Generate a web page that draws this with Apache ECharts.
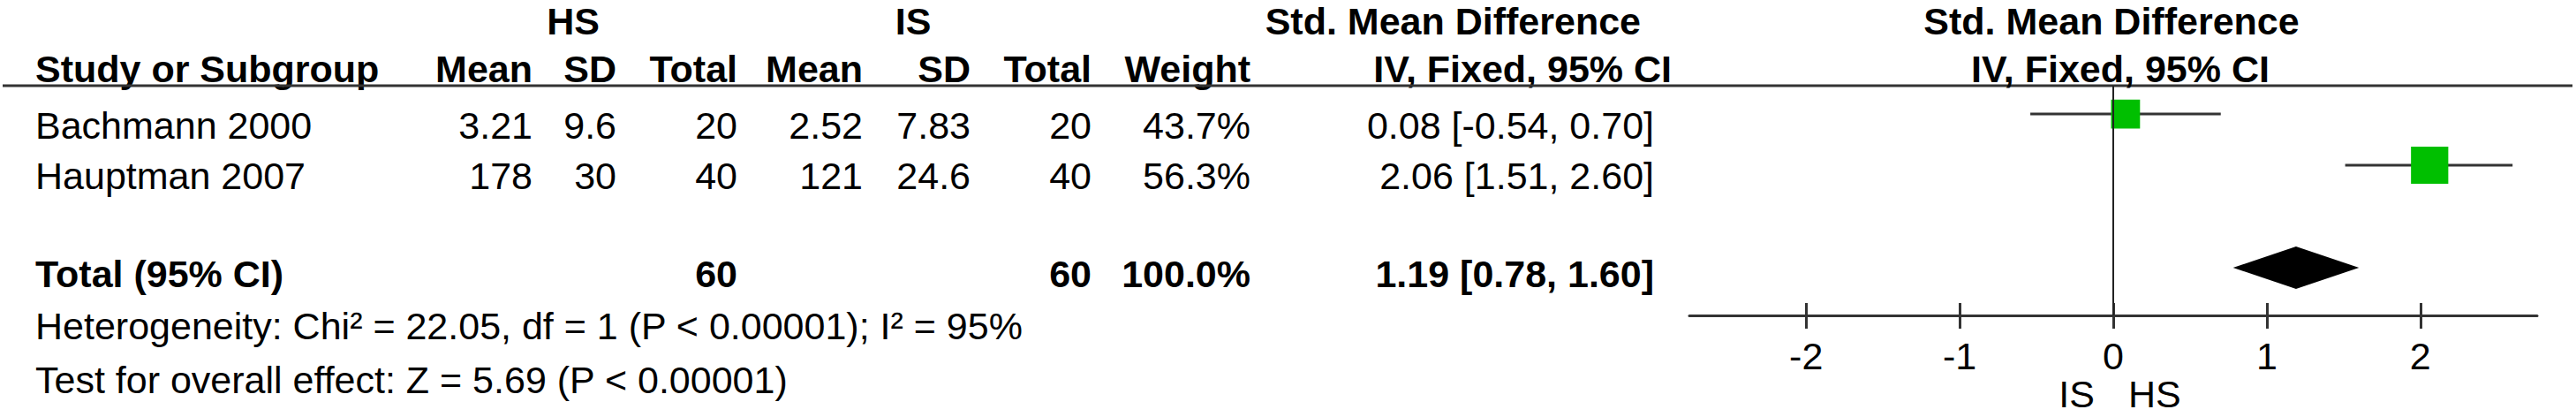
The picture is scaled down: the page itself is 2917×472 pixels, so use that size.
<!DOCTYPE html>
<html>
<head>
<meta charset="utf-8">
<script src="https://cdn.jsdelivr.net/npm/echarts@6/dist/echarts.min.js"></script>
<style>
html, body { margin: 0; padding: 0; background: #fff; }
#c { width: 2917px; height: 472px; }
</style>
</head>
<body>
<div id="c"></div>
<script>
// ---------------- data ----------------
const studies = ['Bachmann 2000', 'Hauptman 2007'];
const hsMean = [3.21, 178];
const hsSD = [9.6, 30];
const hsTotal = [20, 40];
const isMean = [2.52, 121];
const isSD = [7.83, 24.6];
const isTotal = [20, 40];
const weights = [43.7, 56.3];
const smd = [0.08, 2.06];
const ciLow = [-0.54, 1.51];
const ciHigh = [0.70, 2.60];
const totalLabel = 'Total (95% CI)';
const totalHS = 60;
const totalIS = 60;
const totalWeight = 100.0;
const pooledEst = 1.19;
const pooledLow = 0.78;
const pooledHigh = 1.60;
const hetChi2 = 22.05;
const hetDf = 1;
const hetP = '< 0.00001';
const hetI2 = 95;
const overallZ = 5.69;
const overallP = '< 0.00001';
const xTicks = [-2, -1, 0, 1, 2];
const favourLabels = ['IS', 'HS'];
const groupLabels = ['HS', 'IS'];
const effectHeader = ['Std. Mean Difference', 'IV, Fixed, 95% CI'];
const colHeaders = ['Study or Subgroup', 'Mean', 'SD', 'Total', 'Mean', 'SD', 'Total', 'Weight'];

// ---------------- layout ----------------
const FS = 43;
const FONT = '"Liberation Sans", Arial, Helvetica, sans-serif';
const MID = 0.3465 * FS;
const LEFT = 40;
const base = { h1: 39, h2: 93, rows: [157, 214], total: 325, het: 384, test: 445 };
const colRight = [603, 698, 835, 977, 1099, 1236, 1416];
const ciRight = 1873;
const groupCenter = [649, 1034];
const plotLeft = 1913, plotWidth = 960, plotTop = 97, plotHeight = 260;
const xMin = -2.76, xMax = 2.76;
const yMin = 0.448, yMax = 4.931;
const lineColor = '#333';
const boxColor = '#00bf00';

function txt(str, x, baseline, align, bold) {
  return {
    type: 'text', x: x, y: baseline - MID, silent: true,
    style: {
      text: str, fill: '#000',
      font: (bold ? 'bold ' : '') + FS + 'px ' + FONT,
      align: align, textAlign: align,
      verticalAlign: 'middle', textVerticalAlign: 'middle'
    }
  };
}
const fmt2 = v => v.toFixed(2);
const ciText = (e, l, h) => fmt2(e) + ' [' + fmt2(l) + ', ' + fmt2(h) + ']';

const texts = [];
// header row 1
texts.push(txt(groupLabels[0], groupCenter[0], base.h1, 'center', true));
texts.push(txt(groupLabels[1], groupCenter[1], base.h1, 'center', true));
texts.push(txt(effectHeader[0], 1858, base.h1, 'right', true));
// header row 2
texts.push(txt(colHeaders[0], LEFT, base.h2, 'left', true));
for (let k = 1; k < colHeaders.length; k++) {
  texts.push(txt(colHeaders[k], colRight[k - 1], base.h2, 'right', true));
}
texts.push(txt(effectHeader[1], 1893, base.h2, 'right', true));
// study rows
studies.forEach((s, i) => {
  const y = base.rows[i];
  const vals = [String(hsMean[i]), String(hsSD[i]), String(hsTotal[i]),
                String(isMean[i]), String(isSD[i]), String(isTotal[i]),
                weights[i].toFixed(1) + '%'];
  texts.push(txt(s, LEFT, y, 'left', false));
  vals.forEach((v, k) => texts.push(txt(v, colRight[k], y, 'right', false)));
  texts.push(txt(ciText(smd[i], ciLow[i], ciHigh[i]), ciRight, y, 'right', false));
});
// total row
texts.push(txt(totalLabel, LEFT, base.total, 'left', true));
texts.push(txt(String(totalHS), colRight[2], base.total, 'right', true));
texts.push(txt(String(totalIS), colRight[5], base.total, 'right', true));
texts.push(txt(totalWeight.toFixed(1) + '%', colRight[6], base.total, 'right', true));
texts.push(txt(ciText(pooledEst, pooledLow, pooledHigh), ciRight, base.total, 'right', true));
// footnotes
texts.push(txt('Heterogeneity: Chi\u00b2 = ' + hetChi2.toFixed(2) + ', df = ' + hetDf + ' (P ' + hetP + '); I\u00b2 = ' + hetI2 + '%', LEFT, base.het, 'left', false));
texts.push(txt('Test for overall effect: Z = ' + overallZ.toFixed(2) + ' (P ' + overallP + ')', LEFT, base.test, 'left', false));

// header rule
texts.push({
  type: 'line', silent: true,
  shape: { x1: 3, y1: plotTop, x2: 2913, y2: plotTop },
  style: { stroke: lineColor, lineWidth: 3 }
});

const chart = echarts.init(document.getElementById('c'), null, { renderer: 'svg', width: 2917, height: 472 });

const totalRow = studies.length + 2;

const option = {
  animation: false,
  backgroundColor: '#fff',
  grid: [
    { left: plotLeft, top: plotTop, width: plotWidth, height: plotHeight, containLabel: false },
    { left: plotLeft, top: plotTop, width: plotWidth, height: plotHeight, containLabel: false }
  ],
  xAxis: [
    {
      type: 'value', gridIndex: 0, min: xMin, max: xMax, position: 'bottom',
      axisLine: { show: true, onZero: false, lineStyle: { color: lineColor, width: 3 } },
      axisTick: { show: true, customValues: xTicks, length: 15, lineStyle: { color: lineColor, width: 3 } },
      axisLabel: { show: true, customValues: xTicks, fontSize: FS, fontFamily: FONT, color: '#000', margin: 24 },
      splitLine: { show: false }
    },
    {
      type: 'value', gridIndex: 1, min: xMin, max: xMax, position: 'bottom',
      axisLine: { show: false },
      axisTick: { show: true, inside: true, customValues: xTicks, length: 14, lineStyle: { color: lineColor, width: 3 } },
      axisLabel: { show: false },
      splitLine: { show: false }
    }
  ],
  yAxis: [
    { type: 'value', gridIndex: 0, min: yMin, max: yMax, inverse: true, show: false, splitLine: { show: false } },
    { type: 'value', gridIndex: 1, min: yMin, max: yMax, inverse: true, show: false, splitLine: { show: false } }
  ],
  series: [
    {
      type: 'custom', xAxisIndex: 0, yAxisIndex: 0, z: 2,
      data: studies.map((s, i) => [ciLow[i], ciHigh[i], i + 1]),
      renderItem: function (params, api) {
        const a = api.coord([api.value(0), api.value(2)]);
        const b = api.coord([api.value(1), api.value(2)]);
        return { type: 'line', shape: { x1: a[0], y1: a[1], x2: b[0], y2: b[1] },
                 style: { stroke: lineColor, lineWidth: 3 } };
      },
      markLine: {
        silent: true, symbol: ['none', 'none'], label: { show: false },
        lineStyle: { color: '#222', width: 2, type: 'solid' },
        data: [{ xAxis: 0 }]
      }
    },
    {
      type: 'scatter', xAxisIndex: 0, yAxisIndex: 0, z: 3,
      symbol: 'rect',
      symbolSize: function (d) { return d[2] * 0.75; },
      itemStyle: { color: boxColor, opacity: 1 },
      data: smd.map((v, i) => [v, i + 1, weights[i]])
    },
    {
      type: 'custom', xAxisIndex: 0, yAxisIndex: 0, z: 3,
      data: [[pooledEst, pooledLow, pooledHigh, totalRow]],
      renderItem: function (params, api) {
        const c = api.coord([api.value(0), api.value(3)]);
        const l = api.coord([api.value(1), api.value(3)]);
        const r = api.coord([api.value(2), api.value(3)]);
        const h = 24;
        return { type: 'polygon',
                 shape: { points: [[l[0], c[1]], [c[0], c[1] - h], [r[0], c[1]], [c[0], c[1] + h]] },
                 style: { fill: '#000' } };
      }
    }
  ],
  graphic: { elements: texts }
};
chart.setOption(option);

// plot-side headers and favour labels, placed around the zero line
const zeroPx = chart.convertToPixel({ xAxisIndex: 0 }, 0);
const favY = 461;
chart.setOption({
  graphic: { elements: texts.concat([
    txt(effectHeader[0], zeroPx - 2, base.h1, 'center', true),
    txt(effectHeader[1], zeroPx + 8, base.h2, 'center', true),
    txt(favourLabels[0], zeroPx - 21, favY, 'right', false),
    txt(favourLabels[1], zeroPx + 17, favY, 'left', false)
  ]) }
}, { replaceMerge: ['graphic'] });
</script>
</body>
</html>
